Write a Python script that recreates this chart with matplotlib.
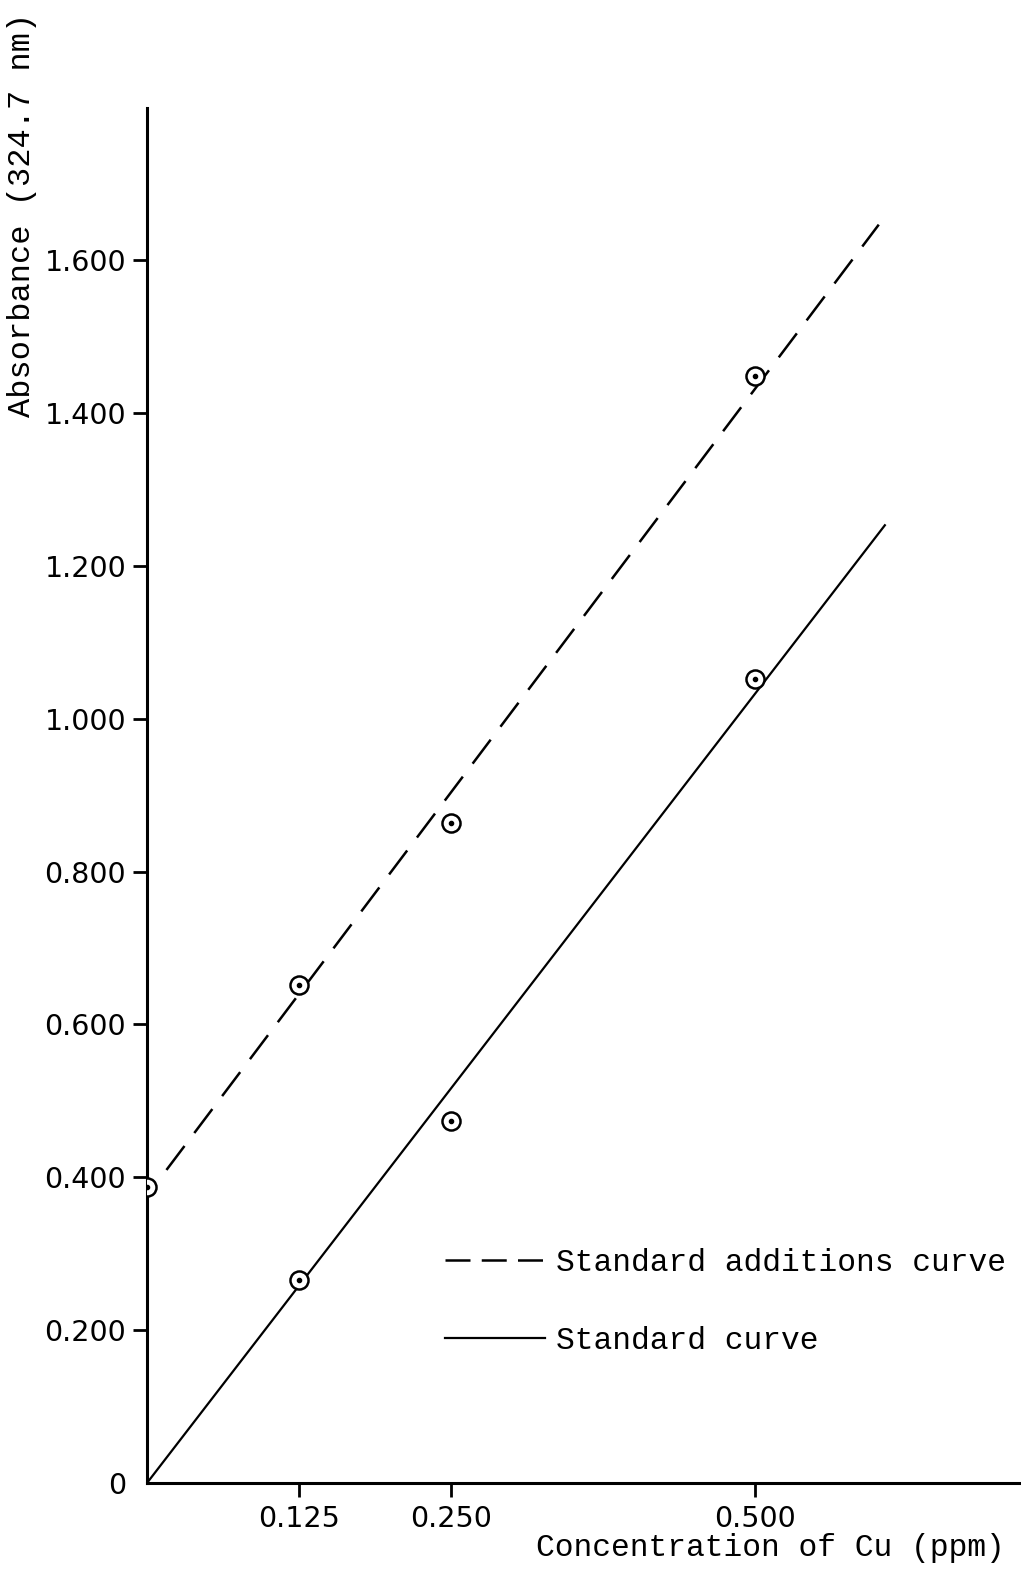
import matplotlib
matplotlib.use("Agg")
import matplotlib.pyplot as plt
import numpy as np

# values
conc = [0.0, 0.125, 0.250, 0.500]
abs_additions = [0.387, 0.651, 0.864, 1.448]
conc_std = [0.125, 0.250, 0.500]
abs_standard = [0.265, 0.473, 1.052]

# extent of the drawn fit lines (ppm)
additions_range = [0.016, 0.602]
standard_range = [0.0, 0.607]

xticks = [0.125, 0.250, 0.500]
xtick_labels = ["0.125", "0.250", "0.500"]
yticks = [0, 0.2, 0.4, 0.6, 0.8, 1.0, 1.2, 1.4, 1.6]
ytick_labels = ["0", "0.200", "0.400", "0.600", "0.800", "1.000", "1.200", "1.400", "1.600"]

mono = "Liberation Mono"
W, H = 1021, 1571

fig = plt.figure(figsize=(W / 100, H / 100), dpi=100)
ax = fig.add_axes([147 / W, 88 / H, (W - 147) / W, 1375 / H])

# fitted lines
k_add = np.polyfit(conc, abs_additions, 1)
xa = np.array(additions_range)
ax.plot(xa, np.polyval(k_add, xa), color="black", lw=1.8,
        dashes=(12, 6.5), label="Standard additions curve", zorder=2)

# standard curve forced through origin
slope = np.dot(conc_std, abs_standard) / np.dot(conc_std, conc_std)
xs = np.array(standard_range)
ax.plot(xs, slope * xs, color="black", lw=1.6, label="Standard curve", zorder=2)

# circled-dot markers
for xv, yv in [(conc, abs_additions), (conc_std, abs_standard)]:
    ax.plot(xv, yv, ls="none", marker="o", ms=13, mfc="white", mec="black",
            mew=1.8, zorder=3)
    ax.plot(xv, yv, ls="none", marker="o", ms=3, color="black", zorder=4)

ax.set_xlim(0, 0.719)
ax.set_ylim(0, 1.799)

ax.set_xticks(xticks)
ax.set_xticklabels(xtick_labels)
ax.set_yticks(yticks)
ax.set_yticklabels(ytick_labels)
ax.tick_params(axis="both", direction="out", length=10, width=2, labelsize=20.5,
               pad=5, colors="black")
ax.tick_params(axis="x", pad=6)
ax.yaxis.get_major_ticks()[0].tick1line.set_visible(False)
for lab in ax.get_xticklabels() + ax.get_yticklabels():
    lab.set_fontweight("medium")

for s in ["top", "right"]:
    ax.spines[s].set_visible(False)
for s in ["left", "bottom"]:
    ax.spines[s].set_linewidth(2.2)

leg = ax.legend(loc="upper left", bbox_to_anchor=(0.341, 0.171), frameon=False,
                borderpad=0, borderaxespad=0, handlelength=3.2, handletextpad=0.35,
                labelspacing=1.53, prop={"family": mono, "size": 22.5})
# three even dashes in the key, as in the original
leg.get_lines()[0].set_dashes((10, 4.5))

fig.text(22 / W, 1 - 215 / H, "Absorbance (324.7 nm)", rotation=90,
         ha="center", va="center", family=mono, fontsize=23)
fig.text(770 / W, 1 - 1548 / H, "Concentration of Cu (ppm)",
         ha="center", va="center", family=mono, fontsize=22.5)

fig.savefig("out.png", dpi=100)
